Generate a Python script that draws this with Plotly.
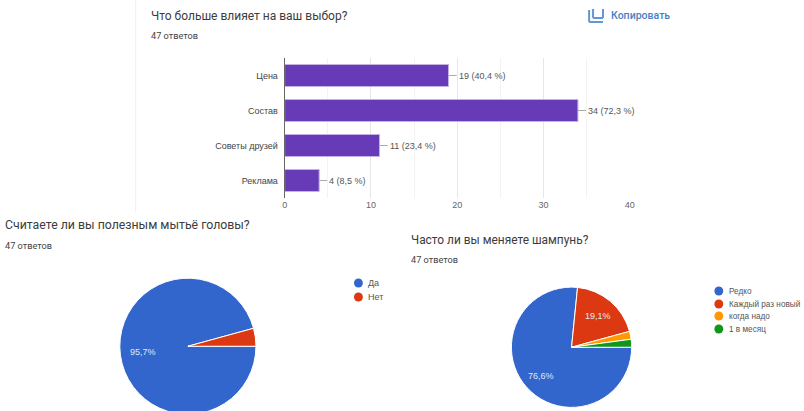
import math
import plotly.graph_objects as go

WIDTH, HEIGHT = 804, 480

# Survey results
bar_categories = ["Цена", "Состав", "Советы друзей", "Реклама"]
bar_values = [19, 34, 11, 4]
bar_labels = ["19 (40,4 %)", "34 (72,3 %)", "11 (23,4 %)", "4 (8,5 %)"]
x_ticks = [0, 10, 20, 30, 40]

wash_labels = ["Да", "Нет"]
wash_values = [45, 2]
wash_text = ["95,7%", ""]

change_labels = ["Редко", "Каждый раз новый", "когда надо", "1 в месяц"]
change_values = [36, 9, 1, 1]
change_text = ["76,6%", "19,1%", "", ""]

BLUE, RED, ORANGE, GREEN = "#3366cc", "#dc3912", "#ff9900", "#109618"
PURPLE = "#673ab7"
TITLE_FONT = "Roboto"
BODY_FONT = "Liberation Sans"


def px(x):
    return x / WIDTH


def py(y):
    return 1 - y / HEIGHT


def text(x, y, s, size, color="#555555", family=BODY_FONT, anchor="left"):
    return dict(xref="paper", yref="paper", x=px(x), y=py(y), text=s, showarrow=False,
                xanchor=anchor, yanchor="middle", align=anchor,
                font=dict(size=size, color=color, family=family))


def slice_labels(values, labels, cx, cy, radius):
    """Place percentage labels along each slice's mid-angle, clockwise from 3 o'clock."""
    total = sum(values)
    start = 90.0
    out = []
    for val, lab in zip(values, labels):
        sweep = 360.0 * val / total
        mid = math.radians(start + sweep / 2)
        start += sweep
        if lab:
            out.append(text(cx + 0.68 * radius * math.sin(mid),
                            cy - 0.68 * radius * math.cos(mid),
                            lab, 9, "#dfe7f7", anchor="center"))
    return out


fig = go.Figure()
fig.add_trace(go.Bar(
    y=bar_categories, x=bar_values, orientation="h",
    marker=dict(color=PURPLE, line=dict(color="#c5b3e6", width=1)),
    hoverinfo="skip", showlegend=False,
))

common_pie = dict(
    sort=False, direction="clockwise", rotation=90, textinfo="none",
    hoverinfo="skip", showlegend=False,
)
fig.add_trace(go.Pie(
    labels=wash_labels, values=wash_values,
    marker=dict(colors=[BLUE, RED], line=dict(color="white", width=1)),
    domain=dict(x=[px(118), px(255.5)], y=[py(415), py(277.5)]), **common_pie,
))
fig.add_trace(go.Pie(
    labels=change_labels, values=change_values,
    marker=dict(colors=[BLUE, RED, ORANGE, GREEN], line=dict(color="white", width=1)),
    domain=dict(x=[px(513.5), px(635)], y=[py(408), py(286.5)]), **common_pie,
))

annotations = [
    text(147, 16, "Что больше влияет на ваш выбор?", 12, "#3c3c3c", TITLE_FONT),
    text(147, 36, "47 ответов", 9.2, "#444444", TITLE_FONT),
    text(612, 15, "Копировать", 10.5, "#4a7fc1", TITLE_FONT + " Medium, " + TITLE_FONT),
    text(0, 225, "Считаете ли вы полезным мытьё головы?", 12.3, "#3c3c3c", TITLE_FONT),
    text(0, 246, "47 ответов", 9.2, "#444444", TITLE_FONT),
    text(410, 240, "Часто ли вы меняете шампунь?", 11.9, "#3c3c3c", TITLE_FONT),
    text(410, 259, "47 ответов", 9.2, "#444444", TITLE_FONT),
]
annotations += slice_labels(wash_values, wash_text, 187, 346, 68)
annotations += slice_labels(change_values, change_text, 574, 348, 61)

shapes = []

# Value labels with short leader lines anchored on the bar ends
for cat, val, lab in zip(bar_categories, bar_values, bar_labels):
    shapes.append(dict(type="line", xref="x", yref="y", xsizemode="pixel", xanchor=val,
                       x0=0, x1=8, y0=cat, y1=cat, line=dict(color="#aaaaaa", width=1)))
    annotations.append(dict(xref="x", yref="y", x=val, y=cat, xshift=8, text=lab, showarrow=False,
                            xanchor="left", font=dict(size=9, color="#555555", family=BODY_FONT)))


def add_legend(x_dot, ys, labels, colors, size):
    for y, lab, col in zip(ys, labels, colors):
        shapes.append(dict(type="circle", xref="paper", yref="paper",
                           x0=px(x_dot - 4.5), x1=px(x_dot + 4.5),
                           y0=py(y + 4.5), y1=py(y - 4.5),
                           fillcolor=col, line=dict(width=0)))
        annotations.append(text(x_dot + 8, y, lab, size))


add_legend(359, [283, 297], wash_labels, [BLUE, RED], 9)
add_legend(723, [291, 304, 316, 329], change_labels, [BLUE, RED, ORANGE, GREEN], 8.2)

# Copy icon next to the "Копировать" link
ICON = "#5f97d8"
for x0, y0, x1, y1 in [(592, 10, 592, 22), (592, 22, 606, 22), (596, 9, 596, 18),
                       (596, 18, 606, 18), (606, 9, 606, 18)]:
    shapes.append(dict(type="line", xref="paper", yref="paper",
                       x0=px(x0), x1=px(x1), y0=py(y0), y1=py(y1),
                       line=dict(color=ICON, width=2)))

# Left border of the bar chart card
shapes.append(dict(type="line", xref="paper", yref="paper",
                   x0=px(134), x1=px(134), y0=py(0), y1=py(212),
                   line=dict(color="#f0f0f0", width=1)))

fig.update_layout(
    width=WIDTH, height=HEIGHT, autosize=False,
    margin=dict(l=0, r=0, t=0, b=0),
    paper_bgcolor="white", plot_bgcolor="white",
    bargap=0.37,
    annotations=annotations, shapes=shapes,
    xaxis=dict(domain=[px(284.5), px(633)], range=[0, 40], tickvals=x_ticks,
               anchor="y", showline=False, zeroline=False,
               showgrid=True, gridcolor="#e6e6e6", gridwidth=1,
               minor=dict(dtick=5, showgrid=True, gridcolor="#f3f3f3"),
               tickfont=dict(size=9, color="#666666", family=BODY_FONT), ticks=""),
    yaxis=dict(domain=[py(198), py(58)], autorange="reversed", anchor="x",
               showline=True, linecolor="#666666", linewidth=1, showgrid=False,
               tickfont=dict(size=9, color="#444444", family=BODY_FONT), ticks="", ticklabelstandoff=4),
)

fig.write_html("out.html", config=dict(displayModeBar=False),
               post_script="document.documentElement.style.overflow='hidden';document.body.style.overflow='hidden';")
